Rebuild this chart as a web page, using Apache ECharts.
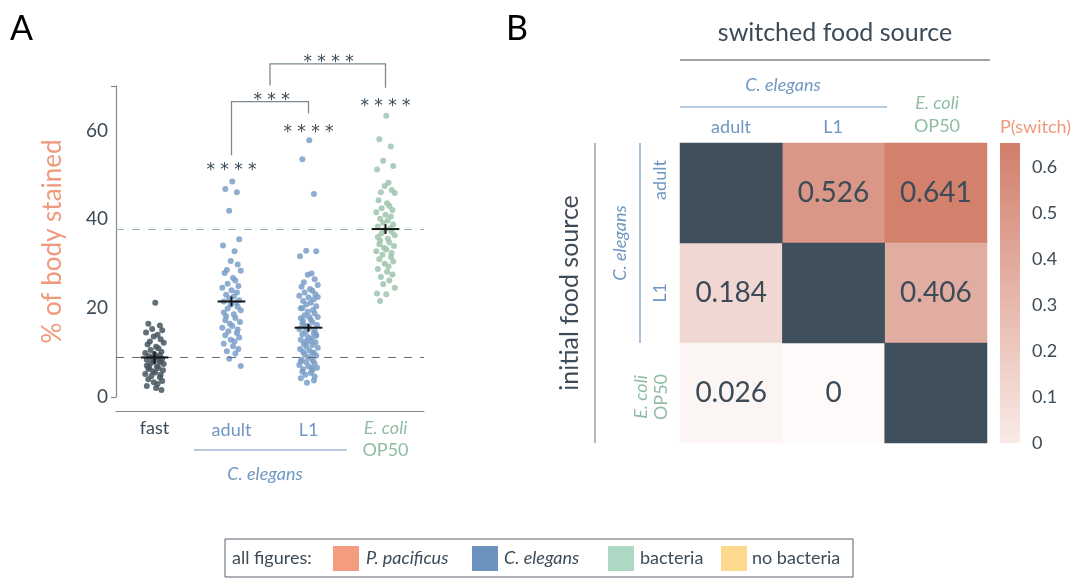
<!DOCTYPE html>
<html>
<head>
<meta charset="utf-8">
<script src="https://cdn.jsdelivr.net/npm/echarts@6/dist/echarts.min.js"></script>
<style>
html, body { margin: 0; padding: 0; background: #fff; }
#main { width: 1075px; height: 580px; }
</style>
</head>
<body>
<div id="main"></div>
<script>
// ---- panel A data: % of body stained per worm ----
var groups = ['fast', 'adult', 'L1', 'E. coli'];
var fastVals = [21.2, 16.5, 16.1, 15.3, 15.0, 14.5, 14.0, 13.6, 13.0, 12.5, 12.2, 11.8, 11.3, 11.0, 10.6, 10.2, 9.9, 9.6, 9.4, 9.2,
    9.0, 8.8, 8.6, 8.4, 8.2, 8.0, 7.8, 7.6, 7.4, 7.1, 6.9, 6.7, 6.5, 6.3, 6.0, 5.8, 5.5, 5.2, 5.0, 4.7, 4.4, 4.0, 3.6, 3.3, 2.9, 2.5, 2.0, 1.6];
var adultVals = [48.5, 46.8, 46.1, 41.9, 35.5, 34.1, 32.8, 30.6, 29.8, 28.6, 28.4, 27.9, 26.8, 26.2, 25.5, 25.0, 24.6, 24.0, 23.5, 23.0,
    22.6, 22.2, 21.8, 21.5, 21.2, 20.8, 20.3, 19.9, 19.5, 19.0, 18.6, 18.2, 17.8, 17.3, 16.9, 16.5, 16.0, 15.6, 15.2, 14.8,
    14.4, 13.9, 13.4, 12.9, 12.5, 12.0, 11.4, 10.8, 10.3, 9.8, 8.6, 7.0];
var l1Vals = [57.8, 53.5, 45.7, 32.9, 32.8, 31.7, 27.8, 27.5, 26.5, 25.8, 25.2, 24.8, 24.3, 23.9, 23.5, 23.1, 22.8, 22.4, 22.0, 21.6,
    21.2, 20.8, 20.4, 20.0, 19.6, 19.2, 18.8, 18.4, 18.0, 17.7, 17.4, 17.1, 16.8, 16.5, 16.2, 15.9, 15.6, 15.3, 15.0, 14.7,
    14.4, 14.1, 13.8, 13.5, 13.2, 12.9, 12.6, 12.3, 12.0, 11.7, 11.4, 11.1, 10.8, 10.5, 10.2, 9.9, 9.6, 9.3, 9.0, 8.7,
    8.4, 8.1, 7.8, 7.5, 7.2, 6.9, 6.6, 6.3, 6.0, 5.7, 5.4, 5.0, 4.6, 4.2, 3.7, 3.2, 14.0, 16.0, 18.0, 20.0,
    22.5, 12.5, 10.0, 8.0, 6.5];
var ecoliVals = [63.3, 58.0, 56.4, 53.2, 52.0, 51.2, 48.2, 47.5, 46.6, 46.1, 45.9, 44.3, 43.6, 43.0, 42.5, 42.1, 41.6, 41.0, 40.6, 40.1,
    39.7, 39.2, 38.8, 38.4, 38.0, 37.6, 37.2, 36.8, 36.4, 36.0, 35.6, 35.2, 34.8, 34.4, 34.0, 33.6, 33.2, 32.8, 32.4, 32.0,
    31.5, 31.0, 30.5, 30.0, 29.4, 28.8, 28.2, 27.6, 27.0, 26.2, 25.4, 24.6, 23.3, 23.1, 21.6];
// horizontal strip offsets (category units)
var jitter = [0.01, -0.08, 0.07, -0.03, 0.10, -0.11, 0.04, -0.01, 0.08, -0.06, 0.12, -0.09, 0.02, 0.05, -0.05, 0.09, -0.12, 0.00, 0.07, -0.07,
    0.03, -0.03, 0.10, -0.10, 0.06, -0.01, 0.08, -0.05, 0.12, -0.10, 0.03, -0.07, 0.05, -0.08, 0.11, -0.02, 0.01, -0.12, 0.08, -0.04,
    0.07, -0.08, 0.10, -0.01, 0.04, -0.10, 0.02, 0.09, -0.06, 0.05, -0.03, 0.12, -0.11, 0.01, -0.07, 0.07, -0.05, 0.10, -0.01, 0.03,
    -0.09, 0.06, -0.03, 0.08, -0.12, 0.00, 0.11, -0.07, 0.05, -0.08, 0.03, -0.04, 0.08, -0.10, 0.07, -0.02, 0.10, -0.05, 0.01, -0.08,
    0.12, -0.03, 0.05, -0.10, 0.04, -0.01, 0.09, -0.12, 0.02, -0.06];
var means = [8.9, 21.5, 15.6, 37.8];
var sems = [1.4, 1.1, 0.9, 1.1];
var fastLine = 8.9, ecoliLine = 37.8;
// brackets: [x left, x right, left foot, right foot, top]
var brackets = [[1, 2, 54.4, 63.8, 66.5], [1.5, 3, 70.1, 69.6, 75.0]];
var starPos = [[1, 52.0], [2, 60.6], [3, 66.5], [1.52, 67.9], [2.26, 76.5]];
var starText = ['* * * *', '* * * *', '* * * *', '* * *', '* * * *'];

// ---- panel B data: P(switch) ----
var foodCols = ['adult', 'L1', 'OP50'];
var foodRows = ['adult', 'L1', 'OP50'];
var pSwitch = [
    [null, 0.526, 0.641],
    [0.184, null, 0.406],
    [0.026, 0, null]
];
var cbarMax = 0.652;

var FONT = 'Lato';
var DARK = '#3c4b57', BLUE = '#7097c2', GREEN = '#8fbca2', SALMON = '#f0997c', GRAY = '#7b8a94';
var LOW = '#fdfaf9', HIGH = '#d27e6b';

function strip(vals, idx) {
    return vals.map(function (v, i) { return [idx + jitter[i], v]; });
}

var heatData = [], diagData = [];
pSwitch.forEach(function (row, r) {
    row.forEach(function (v, c) {
        if (v === null) diagData.push([c, r, 1]);
        else heatData.push([c, r, v]);
    });
});

var chart = echarts.init(document.getElementById('main'));

function dotSeries(vals, idx, color) {
    return {
        type: 'scatter', xAxisIndex: 1, yAxisIndex: 0,
        data: strip(vals, idx), symbolSize: 6,
        itemStyle: { color: color, opacity: 0.85 },
        z: 3
    };
}

var fastSeries = dotSeries(fastVals, 0, '#45565f');
fastSeries.markLine = {
    silent: true, symbol: 'none', label: { show: false },
    data: [
        { yAxis: fastLine, lineStyle: { color: '#5f6d76', type: [8, 8], width: 1.2 } },
        { yAxis: ecoliLine, lineStyle: { color: '#8fbca2', type: [8, 8], width: 1.2 } }
    ]
};

var option = {
    animation: false,
    textStyle: { fontFamily: FONT },
    grid: [
        { left: 116, top: 86, width: 308, height: 311 },
        { left: 680, top: 143, width: 307, height: 300 },
        { left: 1000, top: 143, width: 20, height: 300 }
    ],
    xAxis: [
        {
            gridIndex: 0, type: 'category', data: groups, offset: 14, position: 'bottom',
            axisLine: { onZero: false, lineStyle: { color: GRAY, width: 1.2 } },
            axisTick: { show: false },
            axisLabel: {
                interval: 0, margin: 6, fontSize: 18, color: DARK, lineHeight: 22,
                formatter: function (v) {
                    if (v === 'fast') return '{d|fast}';
                    if (v === 'E. coli') return '{gi|E. coli}\n{g|OP50}';
                    return '{b|' + v + '}';
                },
                rich: {
                    d: { color: DARK, fontSize: 18, fontFamily: FONT },
                    b: { color: BLUE, fontSize: 18, fontFamily: FONT, padding: [4, 0, 0, 0] },
                    gi: { color: GREEN, fontSize: 18, fontStyle: 'italic', fontFamily: FONT, lineHeight: 22 },
                    g: { color: GREEN, fontSize: 18, fontFamily: FONT, lineHeight: 22 }
                }
            }
        },
        { gridIndex: 0, type: 'value', min: -0.5, max: 3.5, show: false },
        { gridIndex: 1, type: 'category', data: foodCols, show: false },
        { gridIndex: 2, type: 'value', min: 0, max: 1, show: false }
    ],
    yAxis: [
        {
            gridIndex: 0, type: 'value', min: 0, max: 70, interval: 20, position: 'left',
            axisLine: { show: true, onZero: false, lineStyle: { color: GRAY, width: 1.2 } },
            axisTick: { show: false },
            splitLine: { show: false },
            axisLabel: {
                fontSize: 19, color: DARK, margin: 8, showMaxLabel: false,
                formatter: function (v) { return v > 60 ? '' : String(v); }
            },
            name: '% of body stained', nameLocation: 'middle', nameGap: 50,
            nameTextStyle: { color: SALMON, fontSize: 26, fontFamily: FONT }
        },
        {
            gridIndex: 0, type: 'value', min: 0, max: 70, interval: 70, position: 'left',
            axisLine: { show: false, onZero: false },
            axisTick: { show: true, length: 5, lineStyle: { color: GRAY, width: 1.2 } },
            axisLabel: { show: false }, splitLine: { show: false }
        },
        { gridIndex: 1, type: 'category', data: foodRows, inverse: true, show: false },
        {
            gridIndex: 2, type: 'value', min: 0, max: cbarMax, interval: 0.1, position: 'right',
            axisLine: { show: false }, axisTick: { show: false }, splitLine: { show: false },
            axisLabel: {
                fontSize: 18, color: DARK, margin: 12, showMaxLabel: false,
                formatter: function (v) { return v === 0 ? '0' : (v > 0.61 ? '' : v.toFixed(1)); }
            }
        }
    ],
    visualMap: {
        show: false, type: 'continuous', seriesIndex: 8,
        min: 0, max: cbarMax, inRange: { color: [LOW, HIGH] }
    },
    series: [
        fastSeries,
        dotSeries(adultVals, 1, '#7a9fc8'),
        dotSeries(l1Vals, 2, '#7a9fc8'),
        dotSeries(ecoliVals, 3, '#9dc4ae'),
        {
            type: 'custom', xAxisIndex: 1, yAxisIndex: 0, z: 5,
            data: means.map(function (m, i) { return [i, m, sems[i]]; }),
            renderItem: function (params, api) {
                var x = api.value(0), m = api.value(1), s = api.value(2);
                var l = api.coord([x - 0.18, m]), r = api.coord([x + 0.18, m]);
                var t = api.coord([x, m + s]), b = api.coord([x, m - s]);
                var st = { stroke: '#151515', lineWidth: 2 };
                return {
                    type: 'group', children: [
                        { type: 'line', shape: { x1: l[0], y1: l[1], x2: r[0], y2: r[1] }, style: st },
                        { type: 'line', shape: { x1: t[0], y1: t[1], x2: b[0], y2: b[1] }, style: st }
                    ]
                };
            }
        },
        {
            type: 'custom', xAxisIndex: 1, yAxisIndex: 0,
            data: brackets,
            renderItem: function (params, api) {
                var xl = api.value(0), xr = api.value(1);
                var top = api.value(4);
                var pts = [api.coord([xl, api.value(2)]), api.coord([xl, top]), api.coord([xr, top]), api.coord([xr, api.value(3)])];
                return { type: 'polyline', shape: { points: pts }, style: { stroke: GRAY, lineWidth: 1.3, fill: 'none' } };
            }
        },
        {
            type: 'custom', xAxisIndex: 1, yAxisIndex: 0,
            data: starPos,
            renderItem: function (params, api) {
                var p = api.coord([api.value(0), api.value(1)]);
                return {
                    type: 'text', x: p[0], y: p[1] + 5,
                    style: { text: starText[params.dataIndex], fill: DARK, font: '17px "DejaVu Sans"', align: 'center', verticalAlign: 'middle' }
                };
            }
        },
        {
            type: 'custom', xAxisIndex: 3, yAxisIndex: 3,
            data: [[0, cbarMax]],
            renderItem: function (params, api) {
                var a = api.coord([0, api.value(1)]), b = api.coord([1, 0]);
                return {
                    type: 'rect', shape: { x: a[0], y: a[1], width: b[0] - a[0], height: b[1] - a[1] },
                    style: { fill: new echarts.graphic.LinearGradient(0, 0, 0, 1, [{ offset: 0, color: HIGH }, { offset: 1, color: '#f9ebe7' }]) }
                };
            }
        },
        {
            type: 'heatmap', xAxisIndex: 2, yAxisIndex: 2, data: heatData,
            label: {
                show: true, fontSize: 28, color: DARK, fontFamily: FONT,
                formatter: function (p) { return String(p.value[2]); }
            }
        },
        {
            type: 'heatmap', xAxisIndex: 2, yAxisIndex: 2, data: diagData,
            itemStyle: { color: '#3f505c' }
        }
    ],
    graphic: [
        { type: 'text', x: 10, y: 12, style: { text: 'A', font: '34px ' + FONT, fill: '#000' } },
        { type: 'text', x: 506, y: 12, style: { text: 'B', font: '34px ' + FONT, fill: '#000' } },
        // panel A group label
        { type: 'line', shape: { x1: 194, y1: 450, x2: 347, y2: 450 }, style: { stroke: BLUE, lineWidth: 1.2 } },
        { type: 'text', x: 265, y: 474, style: { text: 'C. elegans', font: 'italic 18px ' + FONT, fill: BLUE, align: 'center', verticalAlign: 'middle' } },
        // panel B headers
        { type: 'text', x: 835, y: 33, style: { text: 'switched food source', font: '25px ' + FONT, fill: DARK, align: 'center', verticalAlign: 'middle' } },
        { type: 'line', shape: { x1: 680, y1: 60, x2: 990, y2: 60 }, style: { stroke: DARK, lineWidth: 1.2 } },
        { type: 'text', x: 783, y: 85, style: { text: 'C. elegans', font: 'italic 18px ' + FONT, fill: BLUE, align: 'center', verticalAlign: 'middle' } },
        { type: 'line', shape: { x1: 680, y1: 107, x2: 887, y2: 107 }, style: { stroke: BLUE, lineWidth: 1.2 } },
        { type: 'text', x: 937, y: 103, style: { text: 'E. coli', font: 'italic 18px ' + FONT, fill: GREEN, align: 'center', verticalAlign: 'middle' } },
        { type: 'text', x: 937, y: 126, style: { text: 'OP50', font: '18px ' + FONT, fill: GREEN, align: 'center', verticalAlign: 'middle' } },
        { type: 'text', x: 731, y: 127, style: { text: 'adult', font: '18px ' + FONT, fill: BLUE, align: 'center', verticalAlign: 'middle' } },
        { type: 'text', x: 833, y: 127, style: { text: 'L1', font: '18px ' + FONT, fill: BLUE, align: 'center', verticalAlign: 'middle' } },
        { type: 'text', x: 1000, y: 127, style: { text: 'P(switch)', font: '18px ' + FONT, fill: SALMON, align: 'left', verticalAlign: 'middle' } },
        { type: 'text', x: 570, y: 293, rotation: Math.PI / 2, style: { text: 'initial food source', font: '25px ' + FONT, fill: DARK, align: 'center', verticalAlign: 'middle' } },
        { type: 'line', shape: { x1: 595, y1: 143, x2: 595, y2: 443 }, style: { stroke: GRAY, lineWidth: 1.2 } },
        { type: 'text', x: 620, y: 243, rotation: Math.PI / 2, style: { text: 'C. elegans', font: 'italic 18px ' + FONT, fill: BLUE, align: 'center', verticalAlign: 'middle' } },
        { type: 'line', shape: { x1: 640, y1: 143, x2: 640, y2: 343 }, style: { stroke: BLUE, lineWidth: 1.2 } },
        { type: 'text', x: 660, y: 180, rotation: Math.PI / 2, style: { text: 'adult', font: '18px ' + FONT, fill: BLUE, align: 'center', verticalAlign: 'middle' } },
        { type: 'text', x: 660, y: 293, rotation: Math.PI / 2, style: { text: 'L1', font: '18px ' + FONT, fill: BLUE, align: 'center', verticalAlign: 'middle' } },
        { type: 'text', x: 641, y: 397, rotation: Math.PI / 2, style: { text: 'E. coli', font: 'italic 18px ' + FONT, fill: GREEN, align: 'center', verticalAlign: 'middle' } },
        { type: 'text', x: 661, y: 397, rotation: Math.PI / 2, style: { text: 'OP50', font: '18px ' + FONT, fill: GREEN, align: 'center', verticalAlign: 'middle' } },
        // shared legend
        { type: 'rect', shape: { x: 225, y: 539, width: 628, height: 38 }, style: { fill: '#fff', stroke: '#56636c', lineWidth: 1 } },
        { type: 'text', x: 232, y: 558, style: { text: 'all figures:', font: '18px ' + FONT, fill: DARK, verticalAlign: 'middle' } },
        { type: 'rect', shape: { x: 333, y: 546, width: 26, height: 25 }, style: { fill: '#f39c7f' } },
        { type: 'text', x: 366, y: 558, style: { text: 'P. pacificus', font: 'italic 18px ' + FONT, fill: DARK, verticalAlign: 'middle' } },
        { type: 'rect', shape: { x: 472, y: 546, width: 26, height: 25 }, style: { fill: '#6b93bd' } },
        { type: 'text', x: 504, y: 558, style: { text: 'C. elegans', font: 'italic 18px ' + FONT, fill: DARK, verticalAlign: 'middle' } },
        { type: 'rect', shape: { x: 608, y: 546, width: 26, height: 25 }, style: { fill: '#acd8c4' } },
        { type: 'text', x: 640, y: 558, style: { text: 'bacteria', font: '18px ' + FONT, fill: DARK, verticalAlign: 'middle' } },
        { type: 'rect', shape: { x: 721, y: 546, width: 26, height: 25 }, style: { fill: '#fdd98e' } },
        { type: 'text', x: 752, y: 558, style: { text: 'no bacteria', font: '18px ' + FONT, fill: DARK, verticalAlign: 'middle' } }
    ]
};

chart.setOption(option);
</script>
</body>
</html>
